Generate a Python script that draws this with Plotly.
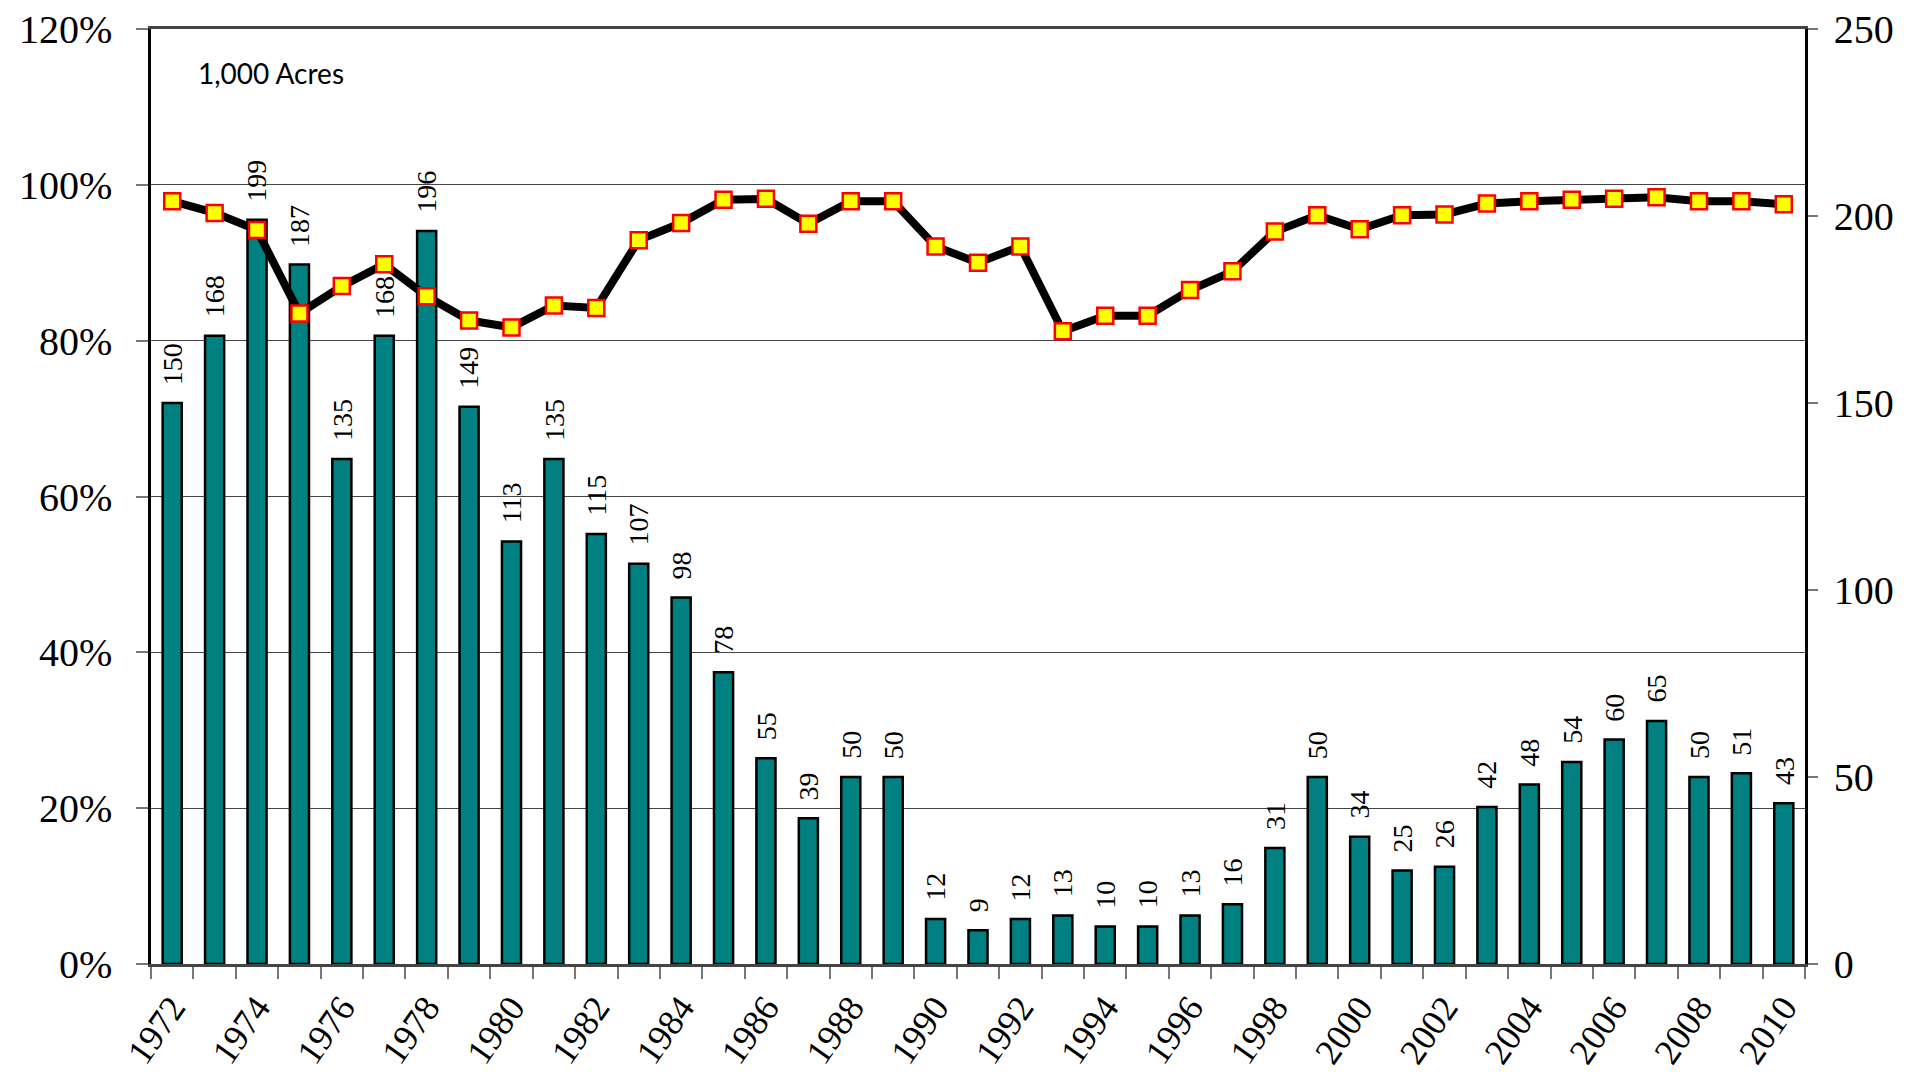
import plotly.graph_objects as go

years = list(range(1972, 2011))
acres = [150, 168, 199, 187, 135, 168, 196, 149, 113, 135, 115, 107, 98, 78, 55, 39, 50, 50,
         12, 9, 12, 13, 10, 10, 13, 16, 31, 50, 34, 25, 26, 42, 48, 54, 60, 65, 50, 51, 43]
share = [0.979, 0.964, 0.942, 0.835, 0.870, 0.898, 0.857, 0.826, 0.817, 0.845, 0.842, 0.929,
         0.951, 0.981, 0.982, 0.950, 0.979, 0.979, 0.921, 0.900, 0.921, 0.812, 0.832, 0.832,
         0.865, 0.889, 0.940, 0.961, 0.943, 0.961, 0.962, 0.976, 0.979, 0.981, 0.982, 0.984,
         0.979, 0.979, 0.975]
tick_years = list(range(1972, 2011, 2))

serif = "Liberation Serif"

fig = go.Figure()
fig.add_trace(go.Bar(
    x=years, y=acres, yaxis="y",
    marker=dict(color="#008080", line=dict(color="black", width=2.5)),
    width=0.45, showlegend=False,
))
fig.add_trace(go.Scatter(
    x=years, y=share, yaxis="y2", mode="lines+markers",
    line=dict(color="black", width=8),
    marker=dict(symbol="square", size=16, color="#FFFF00", line=dict(color="#FF0000", width=2.5)),
    showlegend=False,
))

annotations = [dict(
    x=yr, y=v, xref="x", yref="y", text=str(v), textangle=-90,
    xanchor="center", yanchor="bottom", yshift=16, showarrow=False,
    font=dict(family=serif, size=28, color="black"),
) for yr, v in zip(years, acres)]
annotations.append(dict(
    text="1,000 Acres", xref="paper", yref="paper", x=0.027, y=0.953,
    xanchor="left", yanchor="middle", showarrow=False,
    font=dict(family="Lato", size=28, color="black"),
))

fig.update_layout(
    template="none",
    width=1907, height=1069,
    margin=dict(l=143, r=110, t=21, b=113, autoexpand=False),
    plot_bgcolor="white", paper_bgcolor="white",
    font=dict(family=serif, color="black"),
    xaxis=dict(
        range=[1971.5, 2010.5], tickvals=tick_years, ticktext=[str(y) for y in tick_years],
        tickangle=-55, ticks="", showgrid=False, automargin=False, zeroline=False,
        tickfont=dict(family=serif, size=36, color="black"), ticklabelstandoff=5,
        ticklabeloverflow="allow",
        showline=True, linecolor="#444", linewidth=3, mirror=True,
        minor=dict(ticks="outside", tick0=1971.5, dtick=1, ticklen=12, tickcolor="#777", tickwidth=2, showgrid=False),
    ),
    yaxis=dict(
        side="right", range=[0, 250], tickvals=[0, 50, 100, 150, 200, 250],
        showgrid=False, zeroline=False, automargin=False,
        ticks="outside", ticklen=10, tickcolor="#777", tickwidth=2, ticklabelstandoff=8,
        ticklabeloverflow="allow",
        showline=True, linecolor="black", linewidth=2.5,
        tickfont=dict(family=serif, size=40, color="black"),
    ),
    yaxis2=dict(
        side="left", overlaying="y", range=[0, 1.2], tickvals=[0, 0.2, 0.4, 0.6, 0.8, 1.0, 1.2],
        tickformat=".0%", showgrid=True, gridcolor="#444", gridwidth=1.2, zeroline=False,
        automargin=False, ticklabeloverflow="allow",
        ticks="outside", ticklen=12, tickcolor="#777", tickwidth=2, ticklabelstandoff=16,
        showline=True, linecolor="black", linewidth=2.5,
        tickfont=dict(family=serif, size=40, color="black"),
    ),
    annotations=annotations,
)

fig.write_html("out.html")
